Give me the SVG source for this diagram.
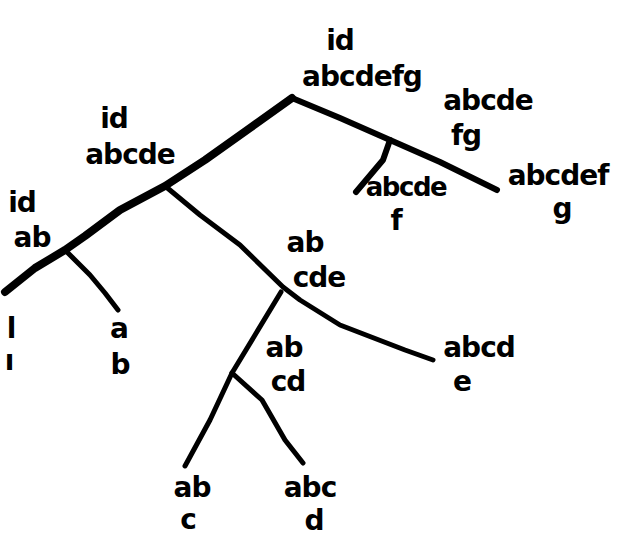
<svg xmlns="http://www.w3.org/2000/svg" width="633" height="536" viewBox="0 0 633 536">
<style>
.t{font-family:"DejaVu Sans",sans-serif;font-weight:bold;font-size:28px;fill:#000;text-anchor:middle;letter-spacing:-1px}
.s{font-size:26px;letter-spacing:-1.5px}
.e{fill:none;stroke:#000;stroke-linecap:round;stroke-linejoin:round}
.k{stroke-width:8}
.m{stroke-width:6}
.n{stroke-width:5}
</style>
<rect width="633" height="536" fill="#fff"/>
<g id="connectors">
<path class="e k" d="M292,98 L250,128 L205,160 L165,186 L120,210 L85,236 L65,250 L35,268 L5,292"/>
<path class="e m" d="M292,98 L340,118 L390,140 L440,162 L497,190"/>
<path class="e m" d="M390,140 L383,160 L356,192"/>
<path class="e n" d="M165,186 L200,215 L240,245 L283,287 L300,300 L340,325 L405,350 L433,360"/>
<path class="e n" d="M67,252 L90,275 L105,293 L118,310"/>
<path class="e n" d="M281,292 L255,335 L232,373 L210,420 L185,466"/>
<path class="e n" d="M232,373 L262,400 L285,440 L303,463"/>
</g>
<g id="n-root"><text class="t" x="340" y="50">id</text><text class="t" x="362" y="86">abcdefg</text></g>
<g id="n-abcdefg"><text class="t" x="488" y="110">abcde</text><text class="t" x="466" y="145">fg</text></g>
<g id="n-abcdef-g"><text class="t" x="558" y="185">abcdef</text><text class="t" x="562" y="218">g</text></g>
<g id="n-abcde-f"><text class="t s" x="406" y="196">abcde</text><text class="t" x="396" y="230">f</text></g>
<g id="n-id-abcde"><text class="t" x="114" y="128">id</text><text class="t" x="130" y="164">abcde</text></g>
<g id="n-id-ab"><text class="t" x="22" y="212">id</text><text class="t" x="32" y="247">ab</text></g>
<g id="n-left"><text class="t" x="11" y="338">l</text><text class="t" x="9" y="370">ı</text></g>
<g id="n-a-b"><text class="t" x="119" y="338">a</text><text class="t" x="120" y="374">b</text></g>
<g id="n-ab-cde"><text class="t" x="305" y="252">ab</text><text class="t" x="319" y="287">cde</text></g>
<g id="n-ab-cd"><text class="t" x="284" y="357">ab</text><text class="t" x="288" y="391">cd</text></g>
<g id="n-abcd-e"><text class="t" x="479" y="357">abcd</text><text class="t" x="462" y="391">e</text></g>
<g id="n-ab-c"><text class="t" x="192" y="497">ab</text><text class="t" x="188" y="529">c</text></g>
<g id="n-abc-d"><text class="t" x="310" y="497">abc</text><text class="t" x="314" y="530">d</text></g>
</svg>
